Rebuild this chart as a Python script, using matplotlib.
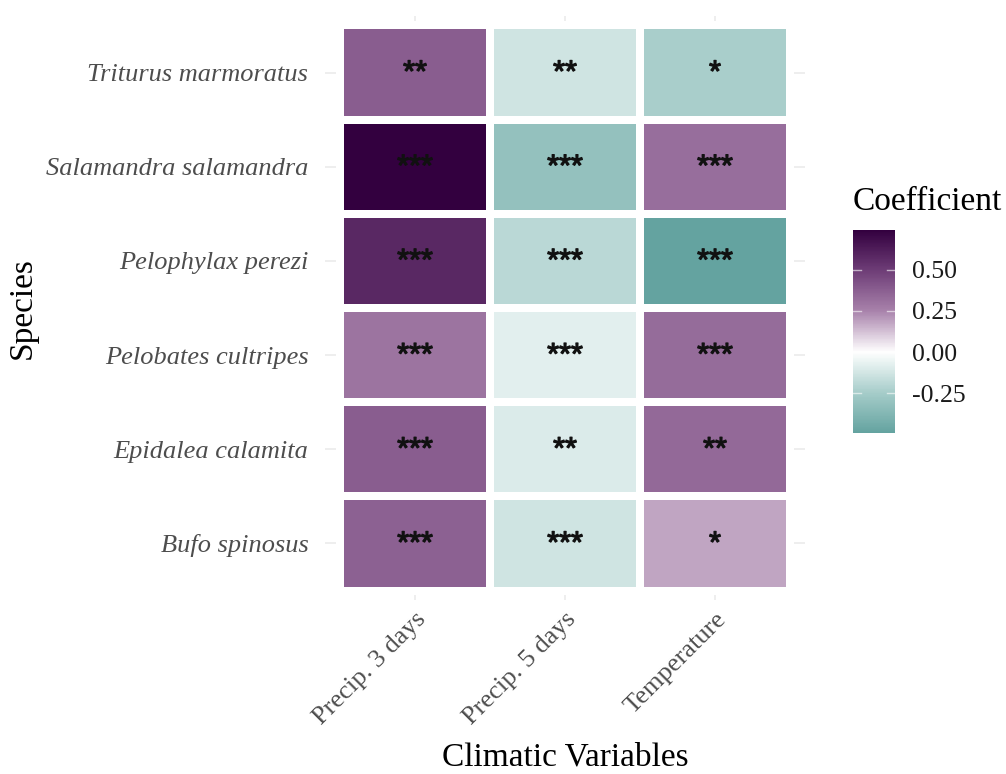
import numpy as np
import matplotlib.pyplot as plt
import matplotlib.patheffects as pe
from matplotlib.colors import LinearSegmentedColormap, Normalize

species = ["Bufo spinosus", "Epidalea calamita", "Pelobates cultripes",
           "Pelophylax perezi", "Salamandra salamandra", "Triturus marmoratus"]
variables = ["Precip. 3 days", "Precip. 5 days", "Temperature"]

# rows follow species order (bottom to top), columns follow variables
coef = np.array([
    [0.37, -0.13, 0.18],
    [0.38, -0.10, 0.34],
    [0.30, -0.08, 0.33],
    [0.58, -0.19, -0.49],
    [0.74, -0.31, 0.32],
    [0.38, -0.13, -0.24],
])
stars = [
    ["***", "***", "*"],
    ["***", "**", "**"],
    ["***", "***", "***"],
    ["***", "***", "***"],
    ["***", "***", "***"],
    ["**", "**", "*"],
]

plt.rcParams['font.family'] = ['Liberation Serif', 'DejaVu Serif']

vmin, vmax = -0.49, 0.74
def pos(v):
    return (v - vmin) / (vmax - vmin)

# diverging teal -> white -> purple, white at zero
cmap = LinearSegmentedColormap.from_list("tealpurple", [
    (0.0, "#64a3a0"),
    (pos(-0.25), "#a5ccc9"),
    (pos(0.0), "#ffffff"),
    (pos(0.25), "#a882ab"),
    (pos(0.5), "#6d3c76"),
    (1.0, "#33003f"),
])
norm = Normalize(vmin=vmin, vmax=vmax)

fig = plt.figure(figsize=(10.06, 7.74), dpi=100)
ax = fig.add_axes([325 / 1006, 1 - 600 / 774, 480 / 1006, 584 / 774])

nr, nc = coef.shape
# light grid behind tiles
for i in range(nc):
    ax.axvline(i, color="#ebebeb", lw=1.2, zorder=0)
for j in range(nr):
    ax.axhline(j, color="#ebebeb", lw=1.2, zorder=0)

xe = np.arange(nc + 1) - 0.5
ye = np.arange(nr + 1) - 0.5
mesh = ax.pcolormesh(xe, ye, coef, cmap=cmap, norm=norm,
                     edgecolor="white", linewidth=5.5, zorder=1)

for j in range(nr):
    for i in range(nc):
        ax.text(i, j - 0.01, stars[j][i], ha="center", va="center",
                fontsize=22, family="Liberation Sans", color="#111111", zorder=3,
                path_effects=[pe.withStroke(linewidth=0.9, foreground="#111111")])

ax.set_xlim(-0.6, nc - 0.4)
ax.set_ylim(-0.6, nr - 0.4)
ax.set_xticks(range(nc))
ax.set_xticklabels(variables, rotation=45, ha="right", va="top",
                   rotation_mode="anchor", fontsize=19, color="#4d4d4d")
ax.set_yticks(range(nr))
ax.set_yticklabels(species, fontsize=19, style="italic", color="#4d4d4d")
ax.tick_params(axis="y", length=0, pad=12)
ax.tick_params(axis="x", length=0, pad=6)
for s in ax.spines.values():
    s.set_visible(False)

ax.set_xlabel("Climatic Variables", fontsize=24, labelpad=9)
ax.set_ylabel("Species", fontsize=24, labelpad=6)

cax = fig.add_axes([853 / 1006, 1 - 433 / 774, 42 / 1006, 203 / 774])
cb = fig.colorbar(mesh, cax=cax, ticks=[-0.25, 0.0, 0.25, 0.5])
cb.outline.set_visible(False)
cb.ax.set_yticklabels(["-0.25", "0.00", "0.25", "0.50"])
cb.ax.tick_params(length=0, labelsize=18.5, pad=12, labelcolor="#1a1a1a")
for t in [-0.25, 0.0, 0.25, 0.5]:
    cb.ax.plot([0, 0.2], [t, t], color="white", lw=1, alpha=0.6)
    cb.ax.plot([0.8, 1], [t, t], color="white", lw=1, alpha=0.6)
fig.text(853 / 1006, 1 - 202 / 774, "Coefficient", fontsize=24, va="center", ha="left")

fig.savefig("out.png", dpi=100, facecolor="white")
